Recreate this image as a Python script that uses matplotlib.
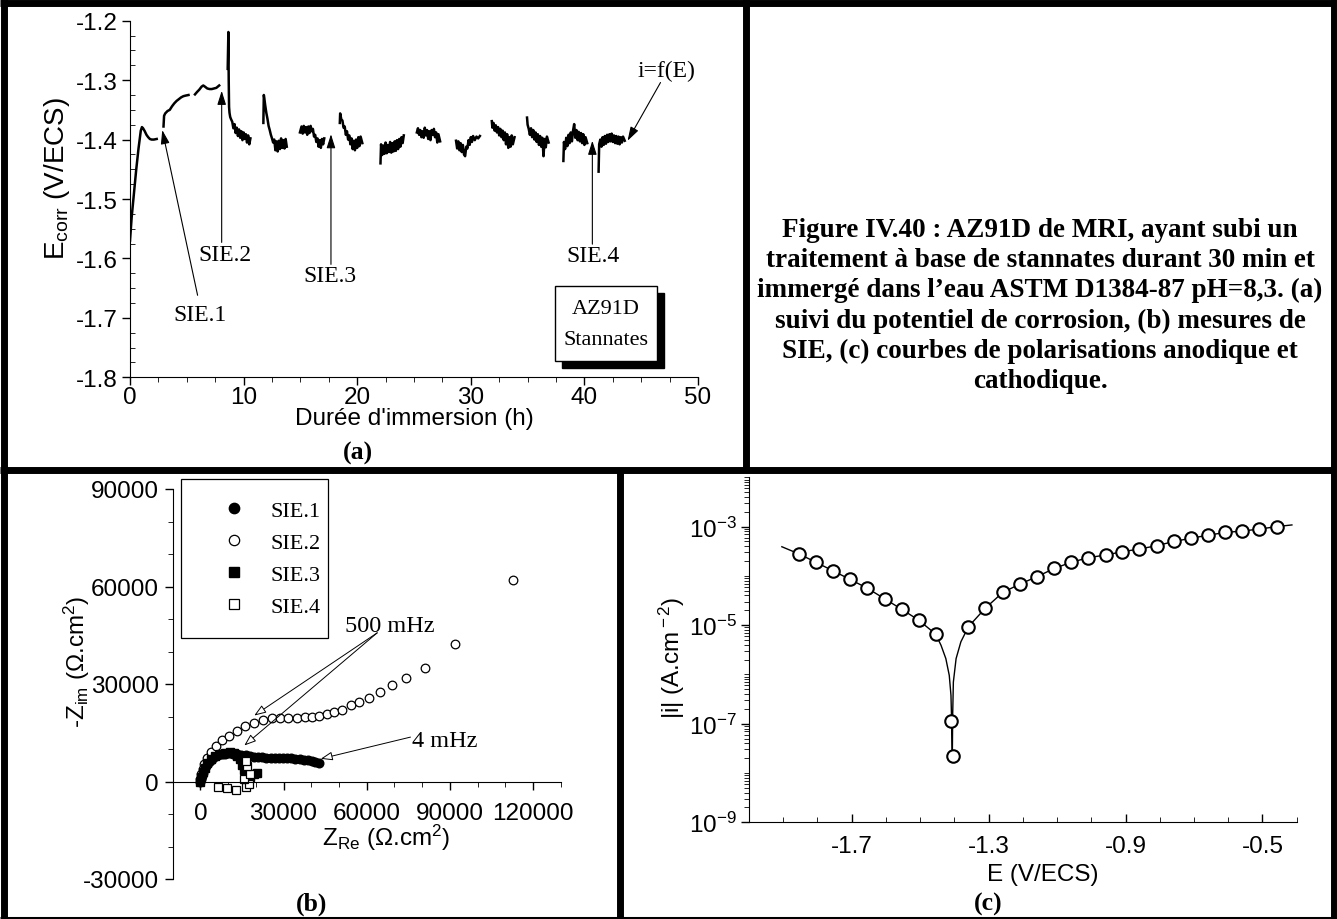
import matplotlib
matplotlib.use("Agg")
import matplotlib.pyplot as plt
import matplotlib.ticker as mticker
from matplotlib.patches import Rectangle

plt.rcParams["font.family"] = ["Liberation Sans", "DejaVu Sans"]
plt.rcParams["mathtext.fontset"] = "custom"
plt.rcParams["mathtext.rm"] = "Liberation Sans"
plt.rcParams["mathtext.it"] = "Liberation Sans:italic"
plt.rcParams["mathtext.bf"] = "Liberation Sans:bold"
plt.rcParams["axes.unicode_minus"] = False

SERIF = ["Liberation Serif", "DejaVu Serif"]
W, H = 1337, 920

# ---- (a) E_corr vs immersion time, one list pair per recorded stretch ----
t_seg1 = [0.0, 0.15, 0.35, 0.55, 0.75, 0.95, 1.05, 1.15, 1.3, 1.45, 1.6, 1.75, 1.9, 2.1, 2.35]
e_seg1 = [-1.570, -1.530, -1.490, -1.450, -1.415, -1.385, -1.379, -1.381, -1.386, -1.392, -1.396,
          -1.399, -1.400, -1.400, -1.399]
t_seg2 = [2.95, 3.0, 3.1, 3.3, 3.5, 3.7, 3.9, 4.1, 4.3, 4.5, 4.7, 4.9, 5.15]
e_seg2 = [-1.378, -1.360, -1.356, -1.352, -1.350, -1.344, -1.339, -1.335, -1.332, -1.329, -1.327,
          -1.326, -1.325]
t_seg3 = [5.72, 5.9, 6.1, 6.3, 6.45, 6.6, 6.8, 7.0, 7.2, 7.4, 7.6, 7.85]
e_seg3 = [-1.324, -1.320, -1.316, -1.311, -1.309, -1.311, -1.314, -1.315, -1.315, -1.314, -1.313, -1.309]
t_seg4 = [8.60, 8.66, 8.69, 8.72, 8.76, 8.82, 8.9, 9.0, 9.1, 9.2, 9.3, 9.4, 9.5, 9.6, 9.7, 9.8, 9.9,
          10.0, 10.1, 10.2, 10.3, 10.4, 10.5, 10.6]
e_seg4 = [-1.281, -1.219, -1.300, -1.345, -1.355, -1.362, -1.366, -1.370, -1.381, -1.374, -1.389,
          -1.380, -1.394, -1.383, -1.397, -1.386, -1.401, -1.388, -1.399, -1.391, -1.405, -1.393,
          -1.408, -1.398]
t_seg5 = [11.74, 11.78, 11.82, 11.9, 12.0, 12.1, 12.2, 12.3, 12.4, 12.5, 12.6, 12.7, 12.8, 12.9,
          13.0, 13.1, 13.2, 13.3, 13.4, 13.5, 13.6, 13.7, 13.8]
e_seg5 = [-1.372, -1.325, -1.330, -1.342, -1.355, -1.365, -1.377, -1.384, -1.392, -1.398, -1.405,
          -1.400, -1.418, -1.403, -1.420, -1.402, -1.416, -1.398, -1.414, -1.401, -1.415, -1.399, -1.412]
t_seg6 = [14.96, 15.1, 15.2, 15.3, 15.4, 15.5, 15.6, 15.7, 15.8, 15.9, 16.0, 16.1, 16.2, 16.3, 16.4,
          16.5, 16.6, 16.7, 16.8, 16.9, 17.0, 17.1]
e_seg6 = [-1.388, -1.378, -1.390, -1.377, -1.388, -1.379, -1.392, -1.378, -1.389, -1.377, -1.386,
          -1.382, -1.395, -1.392, -1.404, -1.398, -1.412, -1.401, -1.414, -1.399, -1.408, -1.398]
t_seg7 = [18.47, 18.5, 18.6, 18.7, 18.8, 18.9, 19.0, 19.1, 19.2, 19.3, 19.4, 19.5, 19.6, 19.7, 19.8,
          19.9, 20.0, 20.1, 20.2, 20.3, 20.45]
e_seg7 = [-1.372, -1.356, -1.366, -1.368, -1.380, -1.378, -1.392, -1.386, -1.400, -1.393, -1.408,
          -1.398, -1.416, -1.402, -1.418, -1.400, -1.414, -1.396, -1.411, -1.395, -1.406]
t_seg8 = [22.05, 22.1, 22.2, 22.3, 22.4, 22.5, 22.6, 22.7, 22.8, 22.9, 23.0, 23.1, 23.2, 23.3, 23.4,
          23.5, 23.6, 23.7, 23.8, 23.9, 24.0, 24.1]
e_seg8 = [-1.440, -1.408, -1.426, -1.410, -1.424, -1.405, -1.423, -1.409, -1.421, -1.404, -1.422,
          -1.406, -1.420, -1.403, -1.419, -1.401, -1.416, -1.399, -1.412, -1.396, -1.406, -1.393]
t_seg9 = [25.25, 25.35, 25.45, 25.55, 25.65, 25.75, 25.85, 25.95, 26.05, 26.15, 26.25, 26.35, 26.45,
          26.55, 26.65, 26.75, 26.85, 26.95, 27.05, 27.15, 27.3]
e_seg9 = [-1.388, -1.381, -1.392, -1.384, -1.396, -1.386, -1.397, -1.380, -1.393, -1.384, -1.399,
          -1.386, -1.401, -1.384, -1.392, -1.382, -1.396, -1.388, -1.405, -1.391, -1.403]
t_seg10 = [28.7, 28.8, 28.9, 29.0, 29.1, 29.2, 29.3, 29.4, 29.5, 29.6, 29.7, 29.8, 29.9, 30.0, 30.1,
           30.2, 30.35, 30.5, 30.65, 30.8]
e_seg10 = [-1.402, -1.415, -1.403, -1.418, -1.406, -1.421, -1.409, -1.425, -1.428, -1.412, -1.415,
           -1.401, -1.409, -1.396, -1.404, -1.394, -1.401, -1.395, -1.398, -1.394]
t_seg11 = [31.85, 31.9, 32.0, 32.1, 32.2, 32.3, 32.4, 32.5, 32.6, 32.7, 32.8, 32.9, 33.0, 33.1, 33.2,
           33.3, 33.4, 33.5, 33.6, 33.7, 33.85]
e_seg11 = [-1.369, -1.380, -1.372, -1.385, -1.376, -1.388, -1.379, -1.393, -1.382, -1.396, -1.385,
           -1.401, -1.388, -1.408, -1.391, -1.414, -1.396, -1.412, -1.393, -1.408, -1.396]
t_seg12 = [34.95, 35.0, 35.1, 35.2, 35.3, 35.4, 35.5, 35.6, 35.7, 35.8, 35.9, 36.0, 36.1, 36.2, 36.3,
           36.4, 36.5, 36.6, 36.7, 36.85]
e_seg12 = [-1.363, -1.375, -1.382, -1.392, -1.381, -1.396, -1.384, -1.400, -1.388, -1.404, -1.391,
           -1.409, -1.394, -1.412, -1.397, -1.428, -1.399, -1.413, -1.395, -1.405]
t_seg13 = [38.15, 38.2, 38.3, 38.4, 38.5, 38.6, 38.7, 38.8, 38.9, 39.0, 39.1, 39.2, 39.3, 39.4, 39.5,
           39.6, 39.7, 39.8, 39.9, 40.0, 40.1, 40.25]
e_seg13 = [-1.436, -1.404, -1.416, -1.397, -1.411, -1.392, -1.406, -1.388, -1.403, -1.385, -1.374,
           -1.397, -1.384, -1.401, -1.387, -1.403, -1.389, -1.406, -1.391, -1.409, -1.396, -1.406]
t_seg14 = [41.25, 41.3, 41.4, 41.5, 41.6, 41.7, 41.8, 41.9, 42.0, 42.1, 42.2, 42.3, 42.4, 42.5, 42.6,
           42.7, 42.8, 42.9, 43.0, 43.1, 43.2, 43.3, 43.4, 43.55]
e_seg14 = [-1.454, -1.408, -1.400, -1.412, -1.396, -1.409, -1.394, -1.407, -1.392, -1.404, -1.391,
           -1.403, -1.390, -1.404, -1.393, -1.406, -1.394, -1.407, -1.395, -1.408, -1.396, -1.405,
           -1.395, -1.402]

# ---- (b) Nyquist diagrams (Z_re, -Z_im in ohm.cm2) ----
sie1_re = [0, 200, 500, 900, 1400, 2000, 2700, 3500, 4400, 5400, 6500, 7700, 9000, 10400, 11800,
           13300, 14800, 16300, 17800, 19300, 20800, 22300, 23800, 25300, 26800, 28300, 29800, 31300,
           32800, 34300, 35800, 37300, 38800, 40200, 41500, 42700]
sie1_im = [0, 700, 1600, 2600, 3700, 4700, 5600, 6400, 7100, 7700, 8100, 8400, 8600, 8650, 8600,
           8450, 8250, 8050, 7850, 7650, 7500, 7400, 7300, 7250, 7200, 7200, 7200, 7200, 7150, 7050,
           6900, 6700, 6500, 6250, 6000, 5750]
sie2_re = [0, 250, 860, 1440, 2410, 3850, 5650, 7700, 10430, 13200, 16190, 19420, 22420, 25660,
           28780, 31650, 34760, 37630, 40400, 42800, 45550, 48180, 51180, 54170, 57170, 60770,
           64720, 69150, 74310, 81150, 91870, 112770]
sie2_im = [830, 2370, 3900, 5450, 7200, 9050, 10890, 12620, 14150, 15690, 17230, 17970, 19000,
           19500, 19500, 19500, 19500, 19800, 20000, 20300, 20800, 21500, 22140, 23570, 24600,
           25630, 27680, 29730, 31780, 34860, 42370, 61850]
sie3_re = [0, 300, 800, 1500, 2500, 3800, 5300, 7000, 8800, 10500, 12000, 13300, 14300, 15000,
           15600, 16500, 17800, 19200, 20300]
sie3_im = [0, 1300, 2800, 4300, 5700, 6900, 7800, 8500, 8900, 9000, 8700, 8000, 6800, 5200, 3600,
           2200, 1400, 2300, 2500]
sie4_re = [6260, 9500, 12840, 16440, 17630, 15830, 17990, 16800, 16300]
sie4_im = [-1720, -2030, -2550, -1720, -710, 830, 2370, 4920, 6200]

# ---- (c) polarisation curve ----
e_pts = [-1.853, -1.804, -1.755, -1.705, -1.654, -1.603, -1.554, -1.504, -1.455, -1.410, -1.405,
         -1.359, -1.310, -1.259, -1.209, -1.159, -1.108, -1.059, -1.009, -0.958, -0.909, -0.860,
         -0.809, -0.758, -0.709, -0.658, -0.609, -0.561, -0.509, -0.458]
i_pts = [2.77e-4, 1.88e-4, 1.27e-4, 8.5e-5, 5.6e-5, 3.4e-5, 2.1e-5, 1.26e-5, 6.6e-6, 1.12e-7,
         2.2e-8, 9.3e-6, 2.2e-5, 4.6e-5, 6.8e-5, 9.6e-5, 1.42e-4, 1.88e-4, 2.34e-4, 2.65e-4,
         3.1e-4, 3.5e-4, 4.1e-4, 5.0e-4, 5.8e-4, 6.7e-4, 7.6e-4, 8.1e-4, 8.9e-4, 1.0e-3]
e_fit = [-1.904, -1.853, -1.804, -1.755, -1.705, -1.654, -1.603, -1.554, -1.504, -1.455, -1.439,
         -1.425, -1.415, -1.410, -1.408, -1.406, -1.405, -1.403, -1.395, -1.381, -1.359, -1.310,
         -1.259, -1.209, -1.159, -1.108, -1.059, -1.009, -0.958, -0.909, -0.860, -0.809, -0.758,
         -0.709, -0.658, -0.609, -0.561, -0.509, -0.458, -0.414]
i_fit = [3.9e-4, 2.77e-4, 1.88e-4, 1.27e-4, 8.5e-5, 5.6e-5, 3.4e-5, 2.1e-5, 1.26e-5, 6.6e-6,
         3.9e-6, 2.1e-6, 9.6e-7, 3.8e-7, 1.1e-7, 2.2e-8, 1.5e-7, 7.0e-7, 2.1e-6, 4.6e-6, 9.3e-6,
         2.2e-5, 4.6e-5, 6.8e-5, 9.6e-5, 1.42e-4, 1.88e-4, 2.34e-4, 2.65e-4, 3.1e-4, 3.5e-4, 4.1e-4,
         5.0e-4, 5.8e-4, 6.7e-4, 7.6e-4, 8.1e-4, 8.9e-4, 1.0e-3, 1.08e-3]

CAPTION = ("Figure IV.40 : AZ91D de MRI, ayant subi un\n"
           "traitement à base de stannates durant 30 min et\n"
           "immergé dans l’eau ASTM D1384-87 pH=8,3. (a)\n"
           "suivi du potentiel de corrosion, (b) mesures de\n"
           "SIE, (c) courbes de polarisations anodique et\n"
           "cathodique.")


def frame(l, t, r, b):
    """Axes rectangle from pixel edges (origin top-left)."""
    return [l / W, 1 - b / H, (r - l) / W, (b - t) / H]


def ptext(x, y, s, **kw):
    kw.setdefault("ha", "center")
    kw.setdefault("va", "center")
    fig.text(x / W, 1 - y / H, s, **kw)


fig = plt.figure(figsize=(W / 100, H / 100), dpi=100)

# ---------------- panel (a) ----------------
axa = fig.add_axes(frame(130, 21.7, 698, 378.3))
segments = [(t_seg1, e_seg1), (t_seg2, e_seg2), (t_seg3, e_seg3), (t_seg4, e_seg4),
            (t_seg5, e_seg5), (t_seg6, e_seg6), (t_seg7, e_seg7), (t_seg8, e_seg8),
            (t_seg9, e_seg9), (t_seg10, e_seg10), (t_seg11, e_seg11), (t_seg12, e_seg12),
            (t_seg13, e_seg13), (t_seg14, e_seg14)]
for t, e in segments:
    axa.plot(t, e, color="black", lw=1.8)
axa.set_xlim(0, 50)
axa.set_ylim(-1.8, -1.2)
axa.spines[["top", "right"]].set_visible(False)
axa.xaxis.set_major_locator(mticker.MultipleLocator(10))
axa.xaxis.set_minor_locator(mticker.MultipleLocator(2.5))
axa.yaxis.set_major_locator(mticker.MultipleLocator(0.1))
axa.yaxis.set_minor_locator(mticker.MultipleLocator(0.025))
axa.yaxis.set_major_formatter(mticker.FormatStrFormatter("%.1f"))
axa.tick_params(labelsize=17.5, width=1)
axa.tick_params(which="major", length=6)
axa.tick_params(which="minor", length=3.5)
axa.tick_params(axis="x", which="both", direction="out", pad=0)
axa.tick_params(axis="y", which="minor", direction="in")
axa.tick_params(axis="y", which="major", direction="out", pad=3)

ann_a = [("SIE.1", (6.16, -1.694), (5.95, -1.662), (2.84, -1.384)),
         ("SIE.2", (8.36, -1.593), (8.07, -1.573), (8.07, -1.318)),
         ("SIE.3", (17.6, -1.628), (17.69, -1.610), (17.69, -1.391)),
         ("SIE.4", (40.8, -1.595), (40.7, -1.576), (40.7, -1.402)),
         ("i=f(E)", (47.2, -1.284), (46.7, -1.304), (43.8, -1.402))]
for label, txt, tail, head in ann_a:
    axa.annotate("", xy=head, xytext=tail,
                 arrowprops=dict(arrowstyle="-|>,head_length=0.7,head_width=0.22",
                                 color="black", lw=0.8, shrinkA=0, shrinkB=0,
                                 mutation_scale=12))
    axa.text(*txt, label, ha="center", va="center", family=SERIF, fontsize=17)

axa.add_patch(Rectangle((0.760, 0.027), 0.180, 0.210, transform=axa.transAxes,
                        facecolor="black", edgecolor="black", clip_on=False))
axa.add_patch(Rectangle((0.748, 0.047), 0.180, 0.210, transform=axa.transAxes,
                        facecolor="white", edgecolor="black", lw=1, clip_on=False))
axa.text(0.838, 0.192, "AZ91D", transform=axa.transAxes, ha="center", va="center",
         family=SERIF, fontsize=16)
axa.text(0.838, 0.107, "Stannates", transform=axa.transAxes, ha="center", va="center",
         family=SERIF, fontsize=16)

ptext(57, 179, r"E$_{\rm corr}$ (V/ECS)", rotation=90, fontsize=20)
ptext(414, 419, "Durée d'immersion (h)", fontsize=17.5)
ptext(358, 453, "(a)", family=SERIF, fontsize=18.5, fontweight="bold")

# ---------------- panel (b) ----------------
axb = fig.add_axes(frame(172.7, 490, 560.7, 880))
axb.plot(sie1_re, sie1_im, "o", color="black", ms=6.2, label="SIE.1")
axb.plot(sie2_re, sie2_im, "o", mfc="white", mec="black", mew=0.9, ms=6.2, label="SIE.2")
axb.plot(sie3_re, sie3_im, "s", color="black", ms=6.0, label="SIE.3")
axb.plot(sie4_re, sie4_im, "s", mfc="white", mec="black", mew=0.9, ms=6.0, label="SIE.4")
axb.set_xlim(-10000, 130000)
axb.set_ylim(-30000, 90000)
axb.spines[["top", "right"]].set_visible(False)
axb.spines["bottom"].set_position(("data", 0))
axb.xaxis.set_major_locator(mticker.FixedLocator([0, 30000, 60000, 90000, 120000]))
axb.xaxis.set_minor_locator(mticker.MultipleLocator(10000))
axb.yaxis.set_major_locator(mticker.FixedLocator([-30000, 0, 30000, 60000, 90000]))
axb.yaxis.set_minor_locator(mticker.MultipleLocator(10000))
axb.xaxis.set_major_formatter(mticker.StrMethodFormatter("{x:.0f}"))
axb.yaxis.set_major_formatter(mticker.StrMethodFormatter("{x:.0f}"))
axb.tick_params(labelsize=17.5, width=1, direction="out")
axb.tick_params(which="major", length=6)
axb.tick_params(which="minor", length=3.5)
axb.tick_params(axis="x", pad=9)
axb.tick_params(axis="y", pad=4)

leg = axb.legend(loc="upper left", bbox_to_anchor=(0.0206, 1.0256, 0.3796, 0.0),
                 mode="expand", borderaxespad=0,
                 frameon=True, fancybox=False, edgecolor="black", framealpha=1,
                 prop={"family": SERIF, "size": 16}, handlelength=2.9, handletextpad=0.2,
                 labelspacing=0.52, borderpad=0.95, numpoints=1, markerscale=1.2)
leg.get_frame().set_linewidth(0.9)

axb.text(68250, 48000, "500 mHz", ha="center", va="center", family=SERIF, fontsize=17.5)
axb.text(88000, 12600, "4 mHz", ha="center", va="center", family=SERIF, fontsize=17.5)
ann_b = [((63800, 45750), (19420, 20300)),
         ((63800, 45750), (15830, 11080)),
         ((75790, 13660), (43420, 6980))]
for tail, head in ann_b:
    axb.annotate("", xy=head, xytext=tail,
                 arrowprops=dict(arrowstyle="-|>,head_length=0.6,head_width=0.22",
                                 facecolor="white", edgecolor="black", lw=0.7,
                                 shrinkA=0, shrinkB=0, mutation_scale=12))

ptext(77, 662, r"-Z$_{\rm im}$ (Ω.cm$^{\rm 2}$)", rotation=90, fontsize=17.5)
ptext(386, 838, r"Z$_{\rm Re}$ (Ω.cm$^{\rm 2}$)", fontsize=17.5)
ptext(312, 904, "(b)", family=SERIF, fontsize=18.5, fontweight="bold")

# ---------------- panel (c) ----------------
axc = fig.add_axes(frame(749, 478.3, 1296.7, 823.3))
axc.plot(e_fit, i_fit, color="black", lw=1.0)
axc.plot(e_pts, i_pts, "o", mfc="white", mec="black", mew=1.5, ms=9)
axc.set_yscale("log")
axc.set_xlim(-2.0, -0.4)
axc.set_ylim(1e-9, 1e-2)
axc.spines[["top", "right"]].set_visible(False)
axc.xaxis.set_major_locator(mticker.FixedLocator([-1.7, -1.3, -0.9, -0.5]))
axc.xaxis.set_minor_locator(mticker.MultipleLocator(0.1))
axc.xaxis.set_major_formatter(mticker.FormatStrFormatter("%.1f"))
axc.yaxis.set_major_locator(mticker.FixedLocator([1e-9, 1e-7, 1e-5, 1e-3]))
axc.yaxis.set_minor_locator(mticker.LogLocator(base=10, subs=range(1, 10), numticks=60))
axc.yaxis.set_major_formatter(mticker.LogFormatterSciNotation())
axc.yaxis.set_minor_formatter(mticker.NullFormatter())
axc.tick_params(labelsize=17.5, width=1)
axc.tick_params(which="major", length=6)
axc.tick_params(which="minor", length=3.5)
axc.tick_params(axis="x", which="both", direction="in", pad=9)
axc.tick_params(axis="y", which="both", direction="out", pad=3)

ptext(672, 658, r"|i| (A.cm$^{\rm -2}$)", rotation=90, fontsize=17.5)
ptext(1043, 875, "E (V/ECS)", fontsize=17.5)
ptext(988, 904, "(c)", family=SERIF, fontsize=18.5, fontweight="bold")

# ---------------- caption ----------------
ptext(1040, 306, CAPTION, family=SERIF, fontsize=19.5, fontweight="bold",
      multialignment="center", linespacing=1.27)

# ---------------- table frame ----------------
over = fig.add_axes([0, 0, 1, 1], zorder=20)
over.set_xlim(0, W)
over.set_ylim(H, 0)
over.axis("off")
over.patch.set_alpha(0)
bw = 5.0
for xs, ys, lw in [([3.5, 3.5], [0, H], bw), ([W - 3.5, W - 3.5], [0, H], bw),
                   ([0, W], [3.5, 3.5], bw), ([0, W], [H - 1.5, H - 1.5], 2.2),
                   ([0, W], [471, 471], bw), ([746, 746], [0, 471], bw),
                   ([620, 620], [471, H], bw)]:
    over.plot(xs, ys, color="black", lw=lw, solid_capstyle="butt")

fig.savefig("out.png", dpi=100)
